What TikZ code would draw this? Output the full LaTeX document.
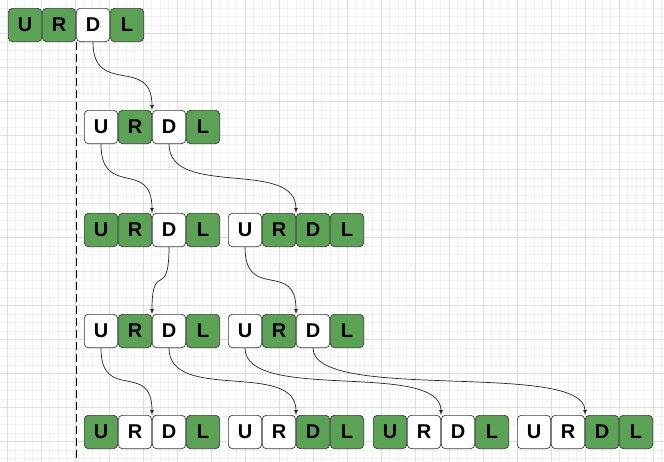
\documentclass[tikz,border=0pt]{standalone}
\usepackage{fontspec}
\setsansfont{Liberation Sans}
\usetikzlibrary{arrows, positioning}
\definecolor{cellgreen}{RGB}{90,162,84}
\definecolor{cellline}{RGB}{60,60,60}
\definecolor{gridminor}{RGB}{242,242,242}
\definecolor{gridmajor}{RGB}{222,222,222}

\begin{document}
\begin{tikzpicture}[x=1pt,y=-1pt,
 cell/.style={rectangle,rounded corners=4pt,draw=cellline,line width=0.7pt,minimum size=33.3pt,inner sep=0pt,font=\sffamily\bfseries\fontsize{20}{20}\selectfont},
 gcell/.style={cell,fill=cellgreen},
 wcell/.style={cell,fill=white},
 move/.style={draw=black!85,line width=0.7pt,-latex,out=-90,in=90,distance=55pt}]
 \useasboundingbox (0,0) rectangle (664,461);
 \fill[white] (0,0) rectangle (664,461);
 % background grid
 \begin{scope}
 \clip (0,0) rectangle (664,461);
 \draw[gridminor,line width=0.6pt,step=8.5pt,shift={(7,-0.7)}] (-20,480) grid (690,-20);
 \draw[gridmajor,line width=0.7pt,step=34pt,shift={(7,-0.7)}] (-20,480) grid (690,-20);
 \end{scope}

 % start
 \node[gcell] (aU) at (25,25) {U};
 \node[gcell,right=0pt of aU] (aR) {R};
 \node[wcell,right=0pt of aR] (aD) {D};
 \node[gcell,right=0pt of aD] (aL) {L};

 \coordinate (floor) at (75,461);
 \draw[black,line width=1pt,dash pattern=on 8pt off 4pt] (aR.south east) -- (aR.south east |- floor);

 % second level
 \node[wcell] (bU) at (101,127) {U};
 \node[gcell,right=0pt of bU] (bR) {R};
 \node[wcell,right=0pt of bR] (bD) {D};
 \node[gcell,right=0pt of bD] (bL) {L};

 % third level
 \node[gcell] (cU) at (101,230) {U};
 \node[gcell,right=0pt of cU] (cR) {R};
 \node[wcell,right=0pt of cR] (cD) {D};
 \node[gcell,right=0pt of cD] (cL) {L};

 \node[wcell] (dU) at (245,230) {U};
 \node[gcell,right=0pt of dU] (dR) {R};
 \node[gcell,right=0pt of dR] (dD) {D};
 \node[gcell,right=0pt of dD] (dL) {L};

 % fourth level
 \node[wcell] (eU) at (101,331) {U};
 \node[gcell,right=0pt of eU] (eR) {R};
 \node[wcell,right=0pt of eR] (eD) {D};
 \node[gcell,right=0pt of eD] (eL) {L};

 \node[wcell] (fU) at (245,331) {U};
 \node[gcell,right=0pt of fU] (fR) {R};
 \node[wcell,right=0pt of fR] (fD) {D};
 \node[gcell,right=0pt of fD] (fL) {L};

 % last level
 \node[gcell] (gU) at (101,432) {U};
 \node[wcell,right=0pt of gU] (gR) {R};
 \node[wcell,right=0pt of gR] (gD) {D};
 \node[gcell,right=0pt of gD] (gL) {L};

 \node[wcell] (hU) at (245,432) {U};
 \node[wcell,right=0pt of hU] (hR) {R};
 \node[gcell,right=0pt of hR] (hD) {D};
 \node[gcell,right=0pt of hD] (hL) {L};

 \node[gcell] (iU) at (390,432) {U};
 \node[wcell,right=0pt of iU] (iR) {R};
 \node[wcell,right=0pt of iR] (iD) {D};
 \node[gcell,right=0pt of iD] (iL) {L};

 \node[wcell] (jU) at (534,432) {U};
 \node[wcell,right=0pt of jU] (jR) {R};
 \node[gcell,right=0pt of jR] (jD) {D};
 \node[gcell,right=0pt of jD] (jL) {L};

 % moves
 \draw[move] (aD.south) to (bR.north east);
 \draw[move] (bU.south) to (cR.north east);
 \draw[move] (bD.south) to (dR.north east);
 \draw[move] (cD.south) to (eR.north east);
 \draw[move] (dU.south) to (fR.north east);
 \draw[move] (eU.south) to (gR.north east);
 \draw[move] (eD.south) to (hR.north east);
 \draw[move] (fU.south) to (iR.north east);
 \draw[move] (fD.south) to (jR.north east);
\end{tikzpicture}
\end{document}
